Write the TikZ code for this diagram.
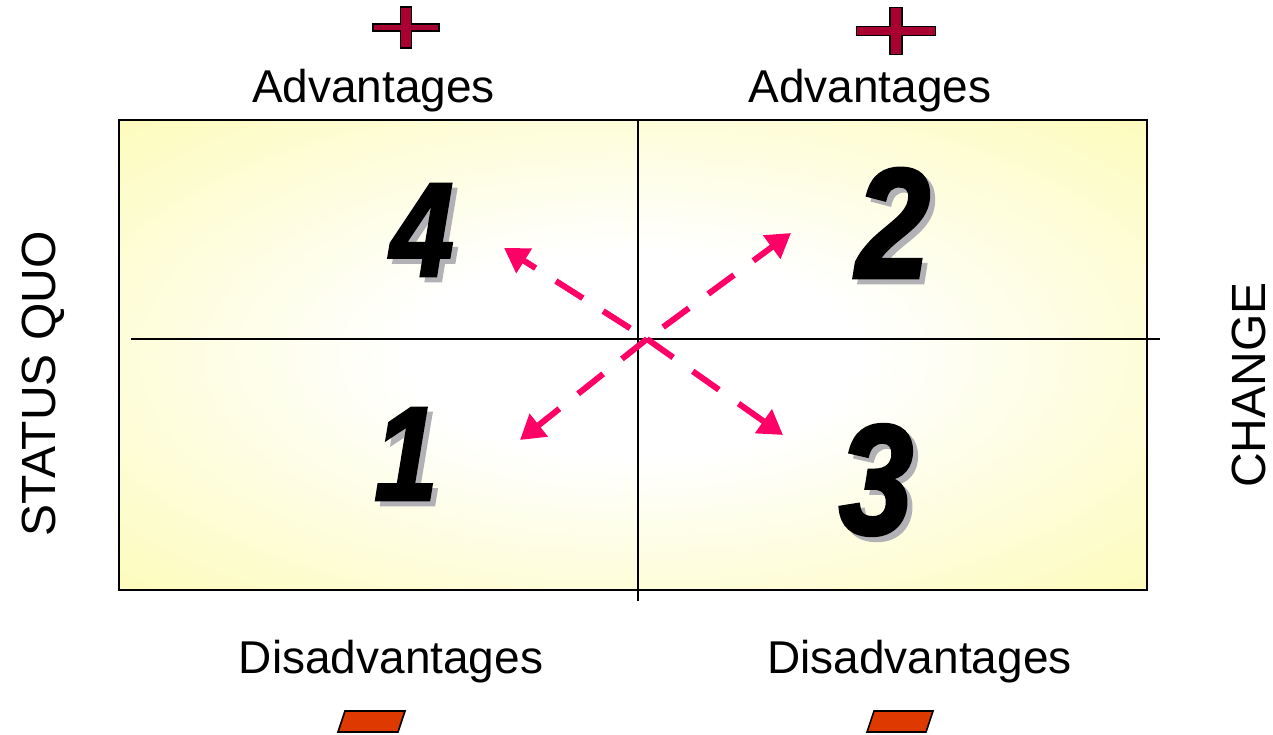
\documentclass[tikz,border=0pt]{standalone}
\usepackage{fontspec}
\setmainfont{Liberation Sans}
\newfontfamily\numfont[FakeBold=2.5]{Liberation Sans}
\usetikzlibrary{arrows.meta}
\definecolor{padyellow}{RGB}{252,250,165}
\definecolor{plusred}{RGB}{168,0,48}
\definecolor{minusred}{RGB}{222,58,0}
\definecolor{arrowpink}{RGB}{255,0,102}
\definecolor{shadowgray}{RGB}{178,178,182}
\pgfdeclareradialshading{padshade}{\pgfpoint{0bp}{0bp}}{color(0bp)=(white); color(11bp)=(white); color(44bp)=(padyellow); color(50bp)=(padyellow)}
\tikzset{
  lbl/.style={font=\fontsize{46}{50}\selectfont, inner sep=0pt, anchor=base},
  sidelbl/.style={font=\fontsize{48}{52}\selectfont, inner sep=0pt, anchor=base, rotate=90},
  numsmall/.style={font=\numfont\bfseries\itshape\fontsize{133}{140}\selectfont, xscale=0.85, inner sep=0pt},
  numbig/.style={font=\numfont\bfseries\itshape\fontsize{156}{160}\selectfont, xscale=0.85, inner sep=0pt},
  shadowtxt/.style={text=shadowgray},
  axis/.style={draw=black, line width=1.6pt},
  pinkarrow/.style={draw=arrowpink, line width=6pt, dash pattern=on 32pt off 24pt, -{Triangle[length=24pt,width=28pt]}},
  gapstart/.style={dash phase=36pt},
  signline/.style={draw=black, line width=1.6pt, line join=miter},
  pics/plussign/.style n args={4}{code={
    \filldraw[signline, fill=plusred] (-#1,-#3)--(-#4,-#3)--(-#4,-#2)--(#4,-#2)--(#4,-#3)--(#1,-#3)--(#1,#3)--(#4,#3)--(#4,#2)--(-#4,#2)--(-#4,#3)--(-#1,#3)--cycle;
  }}
}
\begin{document}
\begin{tikzpicture}[x=1pt,y=-1pt]
\useasboundingbox (0,0) rectangle (1273,735);
% pad
\path[shading=padshade] (119,120) rectangle (1147,590);
\draw[black, line width=1.6pt] (119,120) rectangle (1147,590);
% axes
\coordinate (hl) at (131,339);
\coordinate (hr) at (1160,339);
\coordinate (vt) at (638,120);
\coordinate (vb) at (638,601);
\draw[axis] (hl) -- (hr);
\draw[axis] (vt) -- (vb);
% numbers (shadow first)
\node[numsmall, shadowtxt] (n4s) at (427,235) {4};
\node[numsmall] (n4) at (422,230) {4};
\node[numsmall, shadowtxt] (n1s) at (411,459) {1};
\node[numsmall] (n1) at (406,454) {1};
\node[numbig, shadowtxt] (n2s) at (898,228) {2};
\node[numbig] (n2) at (893,223) {2};
\node[numbig, shadowtxt] (n3s) at (881,485) {3};
\node[numbig] (n3) at (876,480) {3};
% arrows
\coordinate (ctr) at (647,339);
\coordinate (ul) at (504,248);
\coordinate (ur) at (791,233);
\coordinate (ll) at (520,440);
\coordinate (lr) at (783,435);
\draw[pinkarrow, gapstart] (ctr) -- (ul);
\draw[pinkarrow, gapstart] (ctr) -- (ur);
\draw[pinkarrow] (ctr) -- (ll);
\draw[pinkarrow] (ctr) -- (lr);
% labels
\node[lbl] (adv1) at (373.5,103) {Advantages};
\node[lbl] (adv2) at (870,103) {Advantages};
\node[lbl] (dis1) at (391,673) {Disadvantages};
\node[lbl] (dis2) at (919.5,673) {Disadvantages};
\node[sidelbl] (sq) at (55,384) {STATUS QUO};
\node[sidelbl] (ch) at (1265,385) {CHANGE};
% plus signs
\pic at (406,27.5) {plussign={33}{20.5}{3.5}{5.5}};
\pic at (896,31) {plussign={39.5}{23.5}{4.5}{6}};
% minus signs
\filldraw[signline, fill=minusred] (345,711) -- (405,711) -- (398,732) -- (338,732) -- cycle;
\filldraw[signline, fill=minusred] (874,711) -- (933,711) -- (926,732) -- (867,732) -- cycle;
\end{tikzpicture}
\end{document}
